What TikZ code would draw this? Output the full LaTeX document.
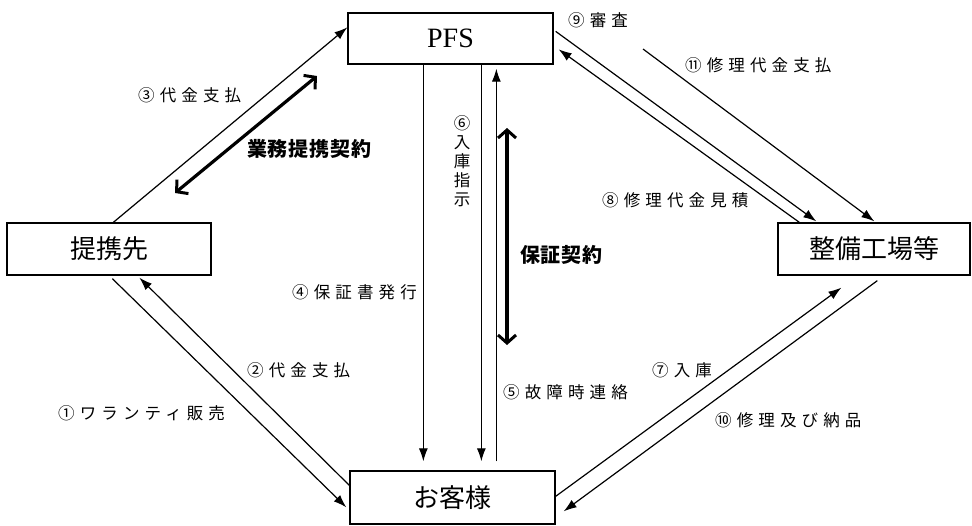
\documentclass[tikz,border=0pt]{standalone}
\usepackage{fontspec}
\setmainfont{Liberation Serif}
\newfontfamily\serif{Liberation Serif}
\newfontfamily\jp{Noto Sans CJK JP}
\newfontfamily\jpl[LetterSpace=31]{Noto Sans CJK JP}
\newfontfamily\jpb[LetterSpace=4]{Noto Sans CJK JP}
\usetikzlibrary{arrows.meta,calc}
\begin{document}
\begin{tikzpicture}[x=1pt,y=-1pt,
  box/.style={draw,line width=1.3pt,inner sep=0pt,font=\jp\fontsize{26}{28}\selectfont},
  arr/.style={line width=1.2pt,-{Latex[length=13pt,width=9pt]}},
  dbl/.style={line width=3.2pt,{Straight Barb[length=8pt,width=18pt,line width=3pt]}-{Straight Barb[length=8pt,width=18pt,line width=3pt]}},
  lab/.style={font=\jpl\fontsize{16.5}{19}\selectfont,inner sep=0pt,anchor=west},
  blab/.style={font=\jpb\bfseries\fontsize{20}{22}\selectfont,inner sep=0pt,anchor=west}]
\useasboundingbox (0,0) rectangle (972,525);
\fill[white] (0,0) rectangle (972,525);
% boxes
\node[box,minimum width=205pt,minimum height=51pt,font=\serif\fontsize{28}{30}\selectfont] (pfs) at (450.5,38.5) {PFS};
\node[box,minimum width=204pt,minimum height=52pt] (tk) at (109,249) {提携先};
\node[box,minimum width=192pt,minimum height=52pt] (sb) at (874,249) {整備工場等};
\node[box,minimum width=205pt,minimum height=53pt] (ok) at (452.5,497.5) {お客様};
% free coordinates
\coordinate (b1) at (175,193);
\coordinate (b2) at (317,76);
\coordinate (e1) at (643,49);
\coordinate (g1) at (507,128);
\coordinate (g2) at (507,345);
% connectors
\draw[arr] ($(tk.north west)+(107,0)$) -- ($(pfs.north west)+(0,15)$);
\draw[dbl] (b1) -- (b2);
\draw[arr] ($(pfs.north east)+(2,19)$) -- ($(sb.north west)+(39,-1)$);
\draw[arr] ($(sb.north west)+(22,0)$) -- ($(pfs.north east)+(5,37)$);
\draw[arr] (e1) -- ($(sb.north west)+(97,-1)$);
\draw[arr] ($(pfs.south west)+(76,0)$) -- ($(ok.north west)+(74,-9)$);
\draw[arr] ($(pfs.south west)+(134,0)$) -- ($(ok.north west)+(132,-9)$);
\draw[arr] ($(ok.north west)+(147,-9)$) -- ($(pfs.south west)+(149,4)$);
\draw[dbl] (g1) -- (g2);
\draw[arr] ($(tk.south west)+(106,3)$) -- ($(ok.north west)+(-3,37)$);
\draw[arr] ($(ok.north west)+(0,15)$) -- ($(tk.south west)+(133,2)$);
\draw[arr] ($(ok.north east)+(0,26)$) -- ($(sb.south west)+(64,12)$);
\draw[arr] ($(sb.south west)+(100,5)$) -- ($(ok.north east)+(8,41)$);
% labels
\node[lab] (l3) at (138,95) {③代金支払};
\node[blab] (lgy) at (247,149) {業務提携契約};
\node[lab] (l9) at (568,20) {⑨審査};
\node[lab] (l11) at (685,65) {⑪修理代金支払};
\node[lab] (l8) at (602,200) {⑧修理代金見積};
\node[lab] (l4) at (292,292) {④保証書発行};
\node[blab] (lhs) at (520,255) {保証契約};
\node[lab] (l5) at (503,392) {⑤故障時連絡};
\node[lab] (l2) at (247,370) {②代金支払};
\node[lab] (l1) at (58,413) {①ワランティ販売};
\node[lab] (l7) at (652,370) {⑦入庫};
\node[lab] (l10) at (715,420) {⑩修理及び納品};
\node[font=\jp\fontsize{16.5}{19}\selectfont,inner sep=0pt,align=center] (l6) at (462,161) {⑥\\入\\庫\\指\\示};
\end{tikzpicture}
\end{document}
